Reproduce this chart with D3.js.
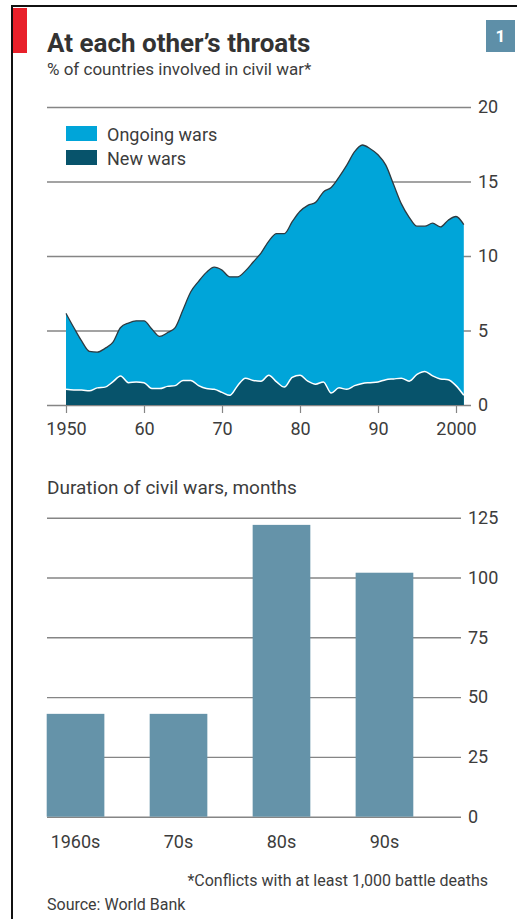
<!DOCTYPE html>
<html>
<head>
<meta charset="utf-8">
<script src="https://cdn.jsdelivr.net/npm/d3@7"></script>
<style>
body { margin: 0; background: #fff; }
svg { display: block; font-family: Roboto, "Open Sans", sans-serif; }
</style>
</head>
<body>
<svg id="chart" width="517" height="919"></svg>
<script>
// --- data ---
const years = d3.range(1950, 2002);
const ongoingWars = [6.15, 5.2, 4.3, 3.6, 3.55, 3.8, 4.2, 5.2, 5.5, 5.65,
    5.65, 5.1, 4.6, 4.85, 5.2, 6.4, 7.6, 8.3, 8.9, 9.25,
    9.05, 8.6, 8.6, 9.0, 9.6, 10.2, 11.0, 11.5, 11.5, 12.3,
    13.0, 13.4, 13.6, 14.3, 14.6, 15.3, 16.1, 17.0, 17.45, 17.2,
    16.8, 16.1, 14.8, 13.5, 12.6, 12.0, 12.0, 12.2, 11.95, 12.4,
    12.65, 12.1];
const newWars = [1.05, 1.0, 1.0, 0.95, 1.15, 1.2, 1.55, 1.95, 1.5, 1.55,
    1.5, 1.1, 1.1, 1.25, 1.3, 1.65, 1.65, 1.3, 1.1, 1.05,
    0.85, 0.65, 1.3, 1.8, 1.65, 1.6, 2.0, 1.55, 1.2, 1.85,
    2.0, 1.6, 1.4, 1.55, 0.8, 1.15, 1.05, 1.3, 1.45, 1.5,
    1.55, 1.7, 1.75, 1.8, 1.6, 2.05, 2.25, 1.95, 1.75, 1.7,
    1.3, 0.65];
const pctTicks = [0, 5, 10, 15, 20];
const yearTicks = [1950, 1960, 1970, 1980, 1990, 2000];
const yearTickLabels = ["1950", "60", "70", "80", "90", "2000"];

const decades = ["1960s", "70s", "80s", "90s"];
const durations = [43, 43, 122, 102];
const monthTicks = [0, 25, 50, 75, 100, 125];

const svg = d3.select("#chart");
const textColor = "#3c3c3c";
const gridColor = "#858585";

// frame + red tag
svg.append("rect").attr("x", 11).attr("y", 5).attr("width", 506).attr("height", 2).attr("fill", "#111");
svg.append("rect").attr("x", 11).attr("y", 5).attr("width", 2).attr("height", 914).attr("fill", "#111");
svg.append("rect").attr("x", 13).attr("y", 8).attr("width", 14).attr("height", 45).attr("fill", "#e8202a");

// chart number box
svg.append("rect").attr("x", 486).attr("y", 20).attr("width", 29).attr("height", 32).attr("fill", "#5e8fa8");
svg.append("text").attr("x", 500.5).attr("y", 42).attr("text-anchor", "middle")
    .attr("fill", "#fff").style("font-size", "17px").style("font-weight", "bold").text("1");

svg.append("text").attr("x", 47).attr("y", 52)
    .attr("fill", "#333").style("font-size", "26px").style("font-weight", "bold")
    .text("At each other\u2019s throats");
svg.append("text").attr("x", 47).attr("y", 75)
    .attr("fill", textColor).style("font-size", "17px")
    .text("% of countries involved in civil war*");

// --- upper chart: stacked area ---
const x = d3.scaleLinear().domain([1950, 2000]).range([66, 456]);
const y = d3.scaleLinear().domain([0, 20]).range([405, 107]);

const yAxis = svg.append("g")
    .attr("transform", "translate(471,0)")
    .call(d3.axisRight(y).tickValues(pctTicks).tickSize(-(471 - 47)).tickPadding(7));
yAxis.select(".domain").remove();
yAxis.selectAll("line").attr("stroke", gridColor).attr("stroke-width", 1.4);
yAxis.selectAll("text").attr("fill", textColor).style("font-size", "18px").style("font-family", "Roboto, sans-serif");

const rows = years.map((yr, i) => ({ year: yr, total: ongoingWars[i], fresh: newWars[i] }));

const area = d3.area()
    .x(d => x(d.year))
    .y0(y(0))
    .curve(d3.curveMonotoneX);

svg.append("path").datum(rows)
    .attr("fill", "#00a5d9")
    .attr("d", area.y1(d => y(d.total)));
svg.append("path").datum(rows)
    .attr("fill", "none").attr("stroke", "#2e3a40").attr("stroke-width", 1.3)
    .attr("d", d3.line().x(d => x(d.year)).y(d => y(d.total)).curve(d3.curveMonotoneX));

svg.append("path").datum(rows)
    .attr("fill", "#07536b")
    .attr("d", area.y1(d => y(d.fresh)));
svg.append("path").datum(rows)
    .attr("fill", "none").attr("stroke", "#fff").attr("stroke-width", 1.5)
    .attr("d", d3.line().x(d => x(d.year)).y(d => y(d.fresh)).curve(d3.curveMonotoneX));

const xAxis = svg.append("g")
    .attr("transform", "translate(0,405)")
    .call(d3.axisBottom(x).tickValues(yearTicks)
        .tickFormat((d, i) => yearTickLabels[i]).tickSize(8).tickPadding(9));
xAxis.select(".domain").remove();
xAxis.selectAll("line").attr("stroke", gridColor).attr("stroke-width", 1.2);
xAxis.selectAll("text").attr("fill", textColor).style("font-size", "18px").style("font-family", "Roboto, sans-serif");

// legend
const legend = [
    { name: "Ongoing wars", color: "#00a5d9" },
    { name: "New wars", color: "#07536b" }
];
const lg = svg.append("g").selectAll("g").data(legend).join("g")
    .attr("transform", (d, i) => `translate(66,${126 + i * 24})`);
lg.append("rect").attr("width", 31).attr("height", 15).attr("fill", d => d.color);
lg.append("text").attr("x", 41).attr("y", 14.5)
    .attr("fill", textColor).style("font-size", "18px").text(d => d.name);

// --- lower chart: bars ---
svg.append("text").attr("x", 47).attr("y", 494)
    .attr("fill", textColor).style("font-size", "19px")
    .text("Duration of civil wars, months");

const xb = d3.scaleBand().domain(decades).range([46.7, 413.3]).paddingInner(0.44).paddingOuter(0);
const yb = d3.scaleLinear().domain([0, 125]).range([816.7, 517.7]);

const ybAxis = svg.append("g")
    .attr("transform", "translate(461,0)")
    .call(d3.axisRight(yb).tickValues(monthTicks).tickSize(-(461 - 47)).tickPadding(7));
ybAxis.select(".domain").remove();
ybAxis.selectAll("line").attr("stroke", gridColor).attr("stroke-width", 1.4);
ybAxis.selectAll("text").attr("fill", textColor).style("font-size", "18px").style("font-family", "Roboto, sans-serif");

svg.append("g").selectAll("rect").data(durations).join("rect")
    .attr("x", (d, i) => xb(decades[i]))
    .attr("width", xb.bandwidth())
    .attr("y", d => yb(d))
    .attr("height", d => yb(0) - yb(d))
    .attr("fill", "#6593a9");

svg.append("g").selectAll("text").data(decades).join("text")
    .attr("x", d => xb(d) + xb.bandwidth() / 2)
    .attr("y", 848)
    .attr("text-anchor", "middle")
    .attr("fill", textColor).style("font-size", "18px")
    .text(d => d);

// notes
svg.append("text").attr("x", 488).attr("y", 886).attr("text-anchor", "end")
    .attr("fill", textColor).style("font-size", "16px")
    .text("*Conflicts with at least 1,000 battle deaths");
svg.append("text").attr("x", 47).attr("y", 910)
    .attr("fill", textColor).style("font-size", "16px")
    .text("Source: World Bank");
</script>
</body>
</html>
